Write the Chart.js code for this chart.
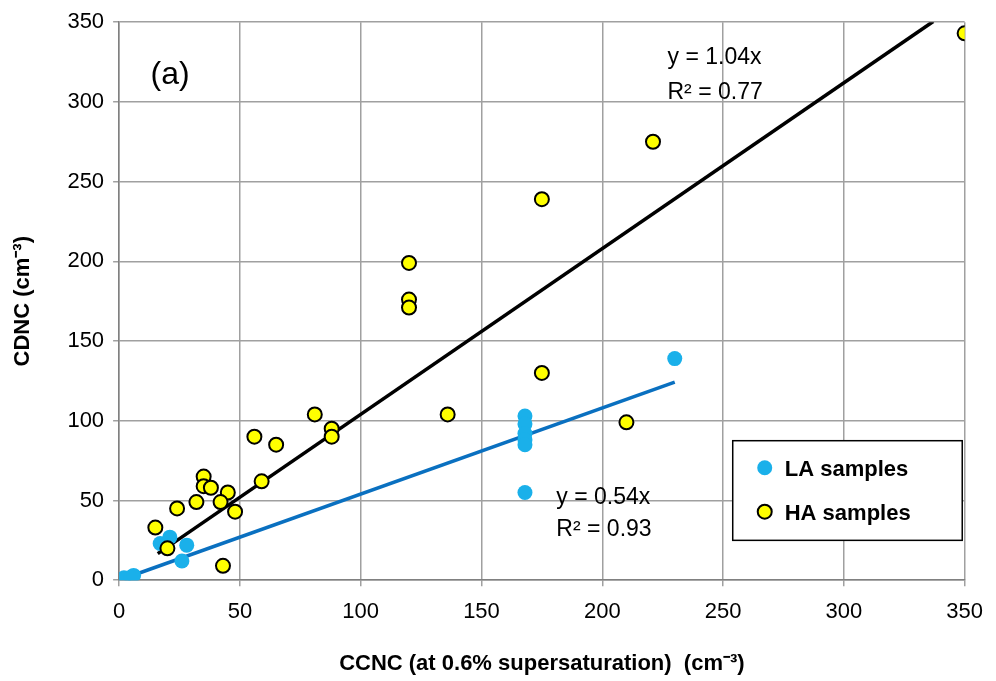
<!DOCTYPE html>
<html><head><meta charset="utf-8">
<script src="https://cdn.jsdelivr.net/npm/chart.js@4"></script>
<style>body{margin:0;background:#fff}#w{width:996px;height:681px}</style>
</head><body><div id="w"><canvas id="c"></canvas></div>
<script>
// LA samples (x = CCNC, y = CDNC)
const laX = [2, 5, 6, 17, 21, 28, 26, 168, 168, 168, 168, 168, 168, 230];
const laY = [1.5, 2, 3, 23, 27, 22, 12, 103, 98, 92, 88, 85, 55, 139];
// HA samples
const haX = [15, 20, 24, 32, 35, 35, 38, 45, 42, 48, 43, 56, 65, 59, 81, 88, 88, 120, 120, 120, 136, 175, 175, 210, 221, 350];
const haY = [33, 20, 45, 49, 65, 59, 58, 55, 49, 43, 9, 90, 85, 62, 104, 95, 90, 199, 176, 171, 104, 239, 130, 99, 275, 343];
const haSlope = 1.04, laSlope = 0.54;
const haFitX = [16, 337], laFitX = [2, 230];

const pts = (xs, ys) => xs.map((x, i) => ({x, y: ys[i]}));
const font = 'Liberation Sans, Arial, sans-serif';

const overlay = {
  id: 'overlay',
  afterDraw(chart) {
    const {ctx, scales: {x, y}} = chart;
    ctx.save();
    ctx.fillStyle = '#000';
    ctx.textBaseline = 'alphabetic';
    ctx.font = '32px ' + font;
    ctx.fillText('(a)', x.getPixelForValue(13), y.getPixelForValue(311));
    ctx.font = '23px ' + font;
    ctx.fillText('y = 1.04x', x.getPixelForValue(227), y.getPixelForValue(324));
    ctx.fillText('R² = 0.77', x.getPixelForValue(227), y.getPixelForValue(302));
    ctx.fillText('y = 0.54x', x.getPixelForValue(181), y.getPixelForValue(48));
    ctx.fillText('R² = 0.93', x.getPixelForValue(181), y.getPixelForValue(28));
    // legend box
    const lx = x.getPixelForValue(254), ty = y.getPixelForValue(87.5);
    const w = x.getPixelForValue(349) - lx, h = y.getPixelForValue(25) - ty;
    ctx.fillStyle = '#fff'; ctx.fillRect(lx, ty, w, h);
    ctx.strokeStyle = '#000'; ctx.lineWidth = 1.5; ctx.strokeRect(lx, ty, w, h);
    ctx.font = 'bold 22px ' + font;
    ctx.beginPath(); ctx.arc(lx + 32, ty + 27, 7.5, 0, 2 * Math.PI);
    ctx.fillStyle = '#1ab0ea'; ctx.fill();
    ctx.beginPath(); ctx.arc(lx + 32, ty + 71, 7, 0, 2 * Math.PI);
    ctx.fillStyle = '#ffff00'; ctx.fill(); ctx.lineWidth = 2; ctx.stroke();
    ctx.fillStyle = '#000';
    ctx.fillText('LA samples', lx + 52, ty + 35);
    ctx.fillText('HA samples', lx + 52, ty + 79);
    ctx.restore();
  }
};

new Chart(document.getElementById('c'), {
  type: 'scatter',
  data: {
    datasets: [
      {label: 'HA fit', type: 'line', data: haFitX.map(x => ({x, y: haSlope * x})), borderColor: '#000', borderWidth: 3.5, pointRadius: 0, order: 3},
      {label: 'LA fit', type: 'line', data: laFitX.map(x => ({x, y: laSlope * x})), borderColor: '#0a70c0', borderWidth: 3.5, pointRadius: 0, order: 4},
      {label: 'LA samples', data: pts(laX, laY), backgroundColor: '#1ab0ea', borderWidth: 0, pointRadius: 7.5, order: 2},
      {label: 'HA samples', data: pts(haX, haY), backgroundColor: '#ffff00', borderColor: '#000', borderWidth: 2, pointRadius: 7, order: 1}
    ]
  },
  options: {
    responsive: true, maintainAspectRatio: false, animation: false,
    layout: {padding: {top: 10, right: 22, left: 6, bottom: 0}},
    plugins: {legend: {display: false}, tooltip: {enabled: false}},
    scales: {
      x: {min: 0, max: 350, ticks: {stepSize: 50, color: '#000', padding: 13, font: {size: 22, family: font}},
        grid: {color: '#a0a0a0', lineWidth: 1.5, tickLength: 6}, border: {color: '#808080', width: 1.5},
        title: {display: true, text: 'CCNC (at 0.6% supersaturation)  (cm⁻³)', color: '#000', padding: {top: 12, bottom: 4}, font: {size: 22, weight: 'bold', family: font}}},
      y: {min: 0, max: 350, ticks: {stepSize: 50, color: '#000', padding: 9, font: {size: 22, family: font}},
        grid: {color: '#a0a0a0', lineWidth: 1.5, tickLength: 6}, border: {color: '#808080', width: 1.5},
        title: {display: true, text: 'CDNC (cm⁻³)', color: '#000', padding: {top: 4, bottom: 22}, font: {size: 22, weight: 'bold', family: font}}}
    }
  },
  plugins: [overlay]
});
</script></body></html>
